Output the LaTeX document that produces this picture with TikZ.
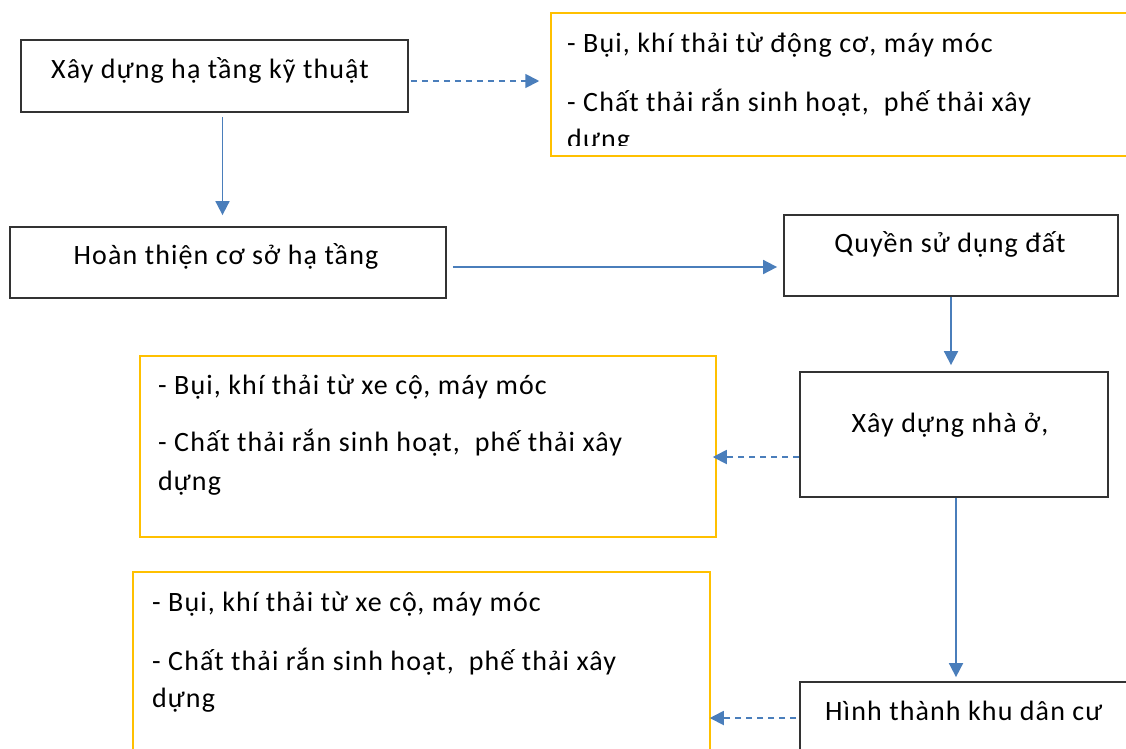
\documentclass[tikz,border=0pt]{standalone}
\usepackage{fontspec}
\setmainfont{Carlito}[LetterSpace=4]
\usetikzlibrary{arrows.meta}
\definecolor{boxgray}{HTML}{333333}
\definecolor{ylw}{HTML}{FFC000}
\definecolor{arrblue}{HTML}{4A7EBB}
\tikzset{
  mainbox/.style={draw=boxgray, line width=1.8pt, rectangle, inner sep=0pt},
  noteframe/.style={draw=ylw, line width=1.5pt, rectangle, inner sep=0pt},
  lbl/.style={font=\fontsize{28}{33}\selectfont, inner sep=0pt, text=black},
  note/.style={font=\fontsize{28}{33}\selectfont, inner sep=0pt, anchor=west, text=black},
  flow/.style={draw=arrblue, line width=1.8pt, -{Triangle[length=14pt,width=14pt]}},
  side/.style={draw=arrblue, line width=1.8pt, dash pattern=on 6pt off 5pt, -{Triangle[length=14pt,width=14pt]}},
}
\begin{document}
\begin{tikzpicture}[x=1pt,y=-1pt]
\useasboundingbox (0,0) rectangle (1126,748);
\clip (0,0) rectangle (1126,748);
% main boxes
\node[mainbox, minimum width=387pt, minimum height=72pt] (b1) at (214.5,76) {};
\node[lbl] (t1) at (210,70) {Xây dựng hạ tầng kỹ thuật};
\node[mainbox, minimum width=436pt, minimum height=71pt] (b2) at (228,262.5) {};
\node[lbl] (t2) at (226,256) {Hoàn thiện cơ sở hạ tầng};
\node[mainbox, minimum width=334pt, minimum height=81pt] (b3) at (951,255.5) {};
\node[lbl] (t3) at (950,244) {Quyền sử dụng đất};
\node[mainbox, minimum width=308pt, minimum height=125pt] (b4) at (954,434.5) {};
\node[lbl] (t4) at (950,425) {Xây dựng nhà ở,};
\node[mainbox, minimum width=330pt, minimum height=100pt] (b5) at (965,732) {};
\node[note] (t5) at (825,711) {Hình thành khu dân cư};
% note boxes
\node[noteframe, minimum width=600pt, minimum height=143pt] (n1) at (851,84.5) {};
\begin{scope}
\clip (551,13) rectangle (1126,145);
\node[note] (n1a) at (567,45) {- Bụi, khí thải từ động cơ, máy móc};
\node[note] (n1b) at (567,103) {- Chất thải rắn sinh hoạt, \ phế thải xây};
\node[note] (n1c) at (567,141) {dựng};
\end{scope}
\node[noteframe, minimum width=576pt, minimum height=181pt] (n2) at (428,446.5) {};
\node[note] (n2a) at (158,387) {- Bụi, khí thải từ xe cộ, máy móc};
\node[note] (n2b) at (158,443) {- Chất thải rắn sinh hoạt, \ phế thải xây};
\node[note] (n2c) at (158,483) {dựng};
\node[noteframe, minimum width=577pt, minimum height=200pt] (n3) at (421.5,672) {};
\node[note] (n3a) at (152,604) {- Bụi, khí thải từ xe cộ, máy móc};
\node[note] (n3b) at (152,662) {- Chất thải rắn sinh hoạt, \ phế thải xây};
\node[note] (n3c) at (152,700) {dựng};
% connector anchor coordinates
\coordinate (c1s) at ([xshift=2pt,yshift=-5pt]b1.east);
\coordinate (c1e) at (n1.west |- c1s);
\coordinate (c2s) at ([xshift=8pt,yshift=-4pt]b1.south);
\coordinate (c2e) at (c2s |- b2.north);
\coordinate (c3s) at ([xshift=6pt,yshift=-4.5pt]b2.east);
\coordinate (c3e) at (b3.west |- c3s);
\coordinate (c4e) at (b3.south |- b4.north);
\coordinate (c5s) at ([yshift=-22.5pt]b4.west);
\coordinate (c5e) at (n2.east |- c5s);
\coordinate (c6s) at ([xshift=2pt]b4.south);
\coordinate (c6e) at (c6s |- b5.north);
\coordinate (c7s) at ([xshift=-3pt,yshift=14pt]b5.west);
\coordinate (c7e) at (n3.east |- c7s);
% connectors
\draw[side] (c1s) -- ([xshift=-11pt]c1e);
\draw[flow] (c2s) -- ([yshift=11pt]c2e);
\draw[flow] (c3s) -- ([xshift=-6pt]c3e);
\draw[flow] (b3.south) -- ([yshift=6pt]c4e);
\draw[side] (c5s) -- ([xshift=-4pt]c5e);
\draw[flow] (c6s) -- ([yshift=4pt]c6e);
\draw[side] (c7s) -- ([xshift=-1pt]c7e);
\end{tikzpicture}
\end{document}
